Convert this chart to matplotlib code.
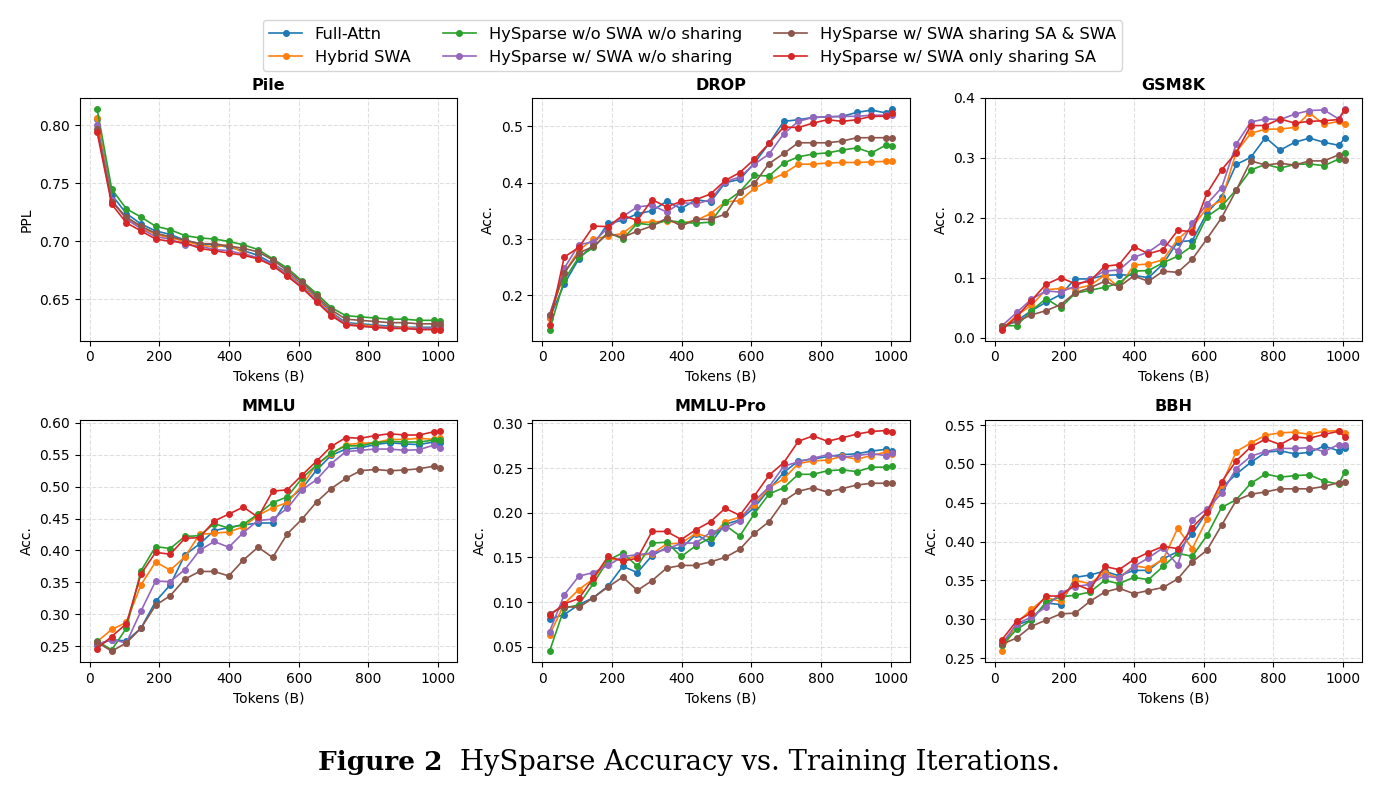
"""
HySparse accuracy vs. training tokens
"""

import numpy as np
import matplotlib.pyplot as plt

tokens = np.array([21, 63, 105, 147, 189, 231, 273, 315, 357, 399, 441, 483, 525,
                   567, 609, 651, 693, 735, 777, 819, 861, 903, 945, 987, 1005])

labels = ["Full-Attn", "Hybrid SWA", "HySparse w/o SWA w/o sharing",
          "HySparse w/ SWA w/o sharing", "HySparse w/ SWA sharing SA & SWA",
          "HySparse w/ SWA only sharing SA"]
colors = ["tab:blue", "tab:orange", "tab:green", "tab:purple", "tab:brown", "tab:red"]

# Pile (PPL)
pile_full = [0.805, 0.740, 0.724, 0.715, 0.709, 0.706, 0.701, 0.698, 0.697, 0.695, 0.692, 0.688, 0.681,
             0.673, 0.663, 0.651, 0.639, 0.630, 0.629, 0.628, 0.627, 0.626, 0.626, 0.626, 0.626]
pile_hybrid = [0.806, 0.735, 0.720, 0.712, 0.706, 0.703, 0.700, 0.697, 0.695, 0.697, 0.690, 0.685, 0.680,
               0.672, 0.662, 0.650, 0.638, 0.629, 0.628, 0.627, 0.626, 0.626, 0.625, 0.625, 0.625]
pile_noswa = [0.814, 0.745, 0.728, 0.721, 0.713, 0.710, 0.705, 0.703, 0.702, 0.700, 0.697, 0.693, 0.685,
              0.677, 0.666, 0.655, 0.643, 0.636, 0.635, 0.634, 0.633, 0.633, 0.632, 0.632, 0.631]
pile_swa = [0.800, 0.736, 0.719, 0.711, 0.704, 0.702, 0.697, 0.696, 0.693, 0.692, 0.689, 0.686, 0.680,
            0.671, 0.661, 0.649, 0.637, 0.629, 0.627, 0.626, 0.626, 0.625, 0.625, 0.625, 0.625]
pile_share_both = [0.797, 0.734, 0.721, 0.713, 0.707, 0.704, 0.701, 0.698, 0.698, 0.696, 0.694, 0.691, 0.684,
                   0.675, 0.665, 0.653, 0.641, 0.633, 0.632, 0.631, 0.630, 0.630, 0.629, 0.629, 0.629]
pile_share_sa = [0.794, 0.732, 0.716, 0.709, 0.702, 0.700, 0.699, 0.694, 0.692, 0.690, 0.688, 0.685, 0.679,
                 0.670, 0.660, 0.648, 0.636, 0.628, 0.627, 0.626, 0.625, 0.625, 0.624, 0.624, 0.624]

# DROP
drop_full = [0.160, 0.220, 0.265, 0.290, 0.328, 0.333, 0.345, 0.350, 0.367, 0.354, 0.370, 0.366, 0.400,
             0.406, 0.435, 0.470, 0.509, 0.512, 0.516, 0.517, 0.518, 0.525, 0.529, 0.524, 0.531]
drop_hybrid = [0.160, 0.240, 0.280, 0.300, 0.305, 0.310, 0.330, 0.330, 0.332, 0.328, 0.333, 0.345, 0.366,
               0.368, 0.390, 0.404, 0.416, 0.433, 0.433, 0.435, 0.436, 0.436, 0.437, 0.438, 0.438]
drop_noswa = [0.139, 0.227, 0.268, 0.285, 0.312, 0.300, 0.328, 0.325, 0.333, 0.330, 0.328, 0.330, 0.365,
              0.384, 0.413, 0.412, 0.435, 0.446, 0.451, 0.453, 0.458, 0.462, 0.453, 0.467, 0.466]
drop_swa = [0.165, 0.248, 0.290, 0.295, 0.320, 0.340, 0.357, 0.360, 0.348, 0.365, 0.362, 0.370, 0.402,
            0.410, 0.433, 0.451, 0.487, 0.509, 0.516, 0.517, 0.518, 0.518, 0.520, 0.520, 0.520]
drop_share_both = [0.165, 0.240, 0.275, 0.287, 0.310, 0.303, 0.314, 0.323, 0.337, 0.323, 0.335, 0.335, 0.344,
                   0.384, 0.399, 0.434, 0.452, 0.471, 0.471, 0.471, 0.474, 0.480, 0.480, 0.480, 0.480]
drop_share_sa = [0.148, 0.268, 0.285, 0.323, 0.322, 0.342, 0.333, 0.370, 0.357, 0.367, 0.370, 0.380, 0.404,
                 0.418, 0.442, 0.470, 0.499, 0.498, 0.506, 0.512, 0.509, 0.512, 0.518, 0.518, 0.524]

# GSM8K
gsm_full = [0.018, 0.028, 0.045, 0.059, 0.072, 0.098, 0.098, 0.104, 0.105, 0.104, 0.100, 0.123, 0.160,
            0.162, 0.208, 0.235, 0.289, 0.301, 0.334, 0.313, 0.326, 0.333, 0.326, 0.321, 0.333]
gsm_hybrid = [0.015, 0.037, 0.054, 0.080, 0.082, 0.082, 0.087, 0.104, 0.084, 0.121, 0.123, 0.130, 0.164,
              0.185, 0.216, 0.229, 0.310, 0.341, 0.348, 0.348, 0.351, 0.375, 0.356, 0.361, 0.356]
gsm_noswa = [0.020, 0.020, 0.045, 0.065, 0.050, 0.074, 0.079, 0.084, 0.091, 0.111, 0.112, 0.125, 0.136,
             0.153, 0.202, 0.219, 0.247, 0.280, 0.289, 0.283, 0.289, 0.290, 0.287, 0.298, 0.309]
gsm_swa = [0.020, 0.042, 0.064, 0.078, 0.076, 0.086, 0.098, 0.111, 0.113, 0.134, 0.143, 0.160, 0.145,
           0.191, 0.223, 0.250, 0.323, 0.360, 0.365, 0.364, 0.373, 0.379, 0.380, 0.365, 0.382]
gsm_share_both = [0.019, 0.027, 0.038, 0.045, 0.055, 0.075, 0.083, 0.094, 0.085, 0.103, 0.094, 0.111, 0.109,
                  0.131, 0.165, 0.200, 0.246, 0.295, 0.288, 0.291, 0.288, 0.295, 0.295, 0.305, 0.297]
gsm_share_sa = [0.013, 0.035, 0.062, 0.089, 0.100, 0.090, 0.094, 0.119, 0.122, 0.152, 0.140, 0.147, 0.179,
                0.177, 0.241, 0.280, 0.309, 0.354, 0.354, 0.365, 0.358, 0.361, 0.362, 0.364, 0.380]

# MMLU
mmlu_full = [0.252, 0.260, 0.258, 0.278, 0.320, 0.346, 0.393, 0.410, 0.431, 0.436, 0.440, 0.443, 0.443,
             0.479, 0.497, 0.526, 0.549, 0.559, 0.561, 0.566, 0.569, 0.567, 0.566, 0.570, 0.569]
mmlu_hybrid = [0.257, 0.276, 0.287, 0.346, 0.382, 0.369, 0.390, 0.425, 0.427, 0.429, 0.437, 0.455, 0.467,
               0.475, 0.502, 0.535, 0.551, 0.566, 0.568, 0.569, 0.574, 0.574, 0.576, 0.574, 0.577]
mmlu_noswa = [0.258, 0.244, 0.278, 0.368, 0.406, 0.403, 0.422, 0.423, 0.442, 0.435, 0.441, 0.457, 0.475,
              0.484, 0.513, 0.534, 0.553, 0.564, 0.564, 0.569, 0.571, 0.570, 0.570, 0.573, 0.573]
mmlu_swa = [0.253, 0.260, 0.255, 0.305, 0.352, 0.351, 0.370, 0.400, 0.414, 0.405, 0.428, 0.447, 0.449,
            0.466, 0.495, 0.511, 0.536, 0.555, 0.557, 0.559, 0.559, 0.557, 0.558, 0.565, 0.560]
mmlu_share_both = [0.256, 0.242, 0.255, 0.278, 0.314, 0.329, 0.355, 0.367, 0.367, 0.360, 0.385, 0.405, 0.389,
                   0.426, 0.449, 0.476, 0.497, 0.513, 0.525, 0.527, 0.525, 0.526, 0.528, 0.532, 0.529]
mmlu_share_sa = [0.246, 0.265, 0.285, 0.363, 0.397, 0.394, 0.419, 0.420, 0.446, 0.457, 0.468, 0.452, 0.493,
                 0.495, 0.518, 0.540, 0.563, 0.577, 0.576, 0.580, 0.583, 0.581, 0.581, 0.586, 0.588]

# MMLU-Pro
pro_full = [0.081, 0.086, 0.097, 0.105, 0.118, 0.140, 0.133, 0.152, 0.161, 0.160, 0.176, 0.166, 0.187,
            0.192, 0.206, 0.226, 0.245, 0.258, 0.260, 0.263, 0.265, 0.266, 0.269, 0.271, 0.269]
pro_hybrid = [0.063, 0.098, 0.114, 0.126, 0.148, 0.147, 0.152, 0.154, 0.165, 0.166, 0.177, 0.172, 0.190,
              0.195, 0.209, 0.228, 0.238, 0.255, 0.258, 0.259, 0.263, 0.260, 0.264, 0.268, 0.266]
pro_noswa = [0.045, 0.093, 0.097, 0.121, 0.147, 0.155, 0.140, 0.166, 0.167, 0.151, 0.163, 0.172, 0.186,
             0.174, 0.199, 0.221, 0.228, 0.243, 0.243, 0.247, 0.248, 0.246, 0.251, 0.251, 0.252]
pro_swa = [0.067, 0.108, 0.129, 0.133, 0.141, 0.151, 0.153, 0.155, 0.159, 0.166, 0.166, 0.178, 0.183,
           0.191, 0.213, 0.229, 0.252, 0.257, 0.261, 0.265, 0.262, 0.264, 0.266, 0.264, 0.267]
pro_share_both = [0.087, 0.095, 0.094, 0.105, 0.117, 0.128, 0.113, 0.124, 0.138, 0.141, 0.141, 0.145, 0.150,
                  0.159, 0.177, 0.190, 0.213, 0.224, 0.228, 0.223, 0.227, 0.231, 0.233, 0.233, 0.233]
pro_share_sa = [0.085, 0.098, 0.104, 0.127, 0.151, 0.146, 0.149, 0.179, 0.179, 0.170, 0.181, 0.190, 0.205,
                0.197, 0.219, 0.242, 0.256, 0.280, 0.286, 0.280, 0.284, 0.288, 0.291, 0.292, 0.290]

# BBH
bbh_full = [0.267, 0.293, 0.299, 0.321, 0.319, 0.354, 0.357, 0.362, 0.356, 0.363, 0.363, 0.378, 0.387,
            0.410, 0.438, 0.469, 0.487, 0.502, 0.515, 0.517, 0.513, 0.515, 0.523, 0.517, 0.521]
bbh_hybrid = [0.259, 0.295, 0.313, 0.328, 0.323, 0.350, 0.346, 0.360, 0.353, 0.369, 0.366, 0.377, 0.417,
              0.391, 0.429, 0.473, 0.516, 0.527, 0.537, 0.540, 0.541, 0.538, 0.542, 0.543, 0.540]
bbh_noswa = [0.267, 0.287, 0.299, 0.322, 0.329, 0.331, 0.335, 0.350, 0.346, 0.354, 0.351, 0.368, 0.385,
             0.381, 0.408, 0.444, 0.454, 0.475, 0.487, 0.483, 0.485, 0.486, 0.478, 0.474, 0.490]
bbh_swa = [0.269, 0.294, 0.303, 0.316, 0.334, 0.342, 0.345, 0.356, 0.353, 0.368, 0.379, 0.392, 0.370,
           0.428, 0.442, 0.462, 0.494, 0.510, 0.516, 0.520, 0.520, 0.521, 0.516, 0.525, 0.525]
bbh_share_both = [0.268, 0.276, 0.291, 0.299, 0.307, 0.308, 0.323, 0.335, 0.340, 0.333, 0.337, 0.341, 0.352,
                  0.374, 0.389, 0.421, 0.453, 0.461, 0.464, 0.468, 0.468, 0.468, 0.471, 0.476, 0.477]
bbh_share_sa = [0.274, 0.298, 0.308, 0.330, 0.330, 0.345, 0.338, 0.368, 0.364, 0.377, 0.386, 0.394, 0.391,
                0.418, 0.438, 0.477, 0.504, 0.522, 0.532, 0.525, 0.535, 0.533, 0.538, 0.542, 0.535]

panels = [
    ("Pile", "PPL", [pile_full, pile_hybrid, pile_noswa, pile_swa, pile_share_both, pile_share_sa]),
    ("DROP", "Acc.", [drop_full, drop_hybrid, drop_noswa, drop_swa, drop_share_both, drop_share_sa]),
    ("GSM8K", "Acc.", [gsm_full, gsm_hybrid, gsm_noswa, gsm_swa, gsm_share_both, gsm_share_sa]),
    ("MMLU", "Acc.", [mmlu_full, mmlu_hybrid, mmlu_noswa, mmlu_swa, mmlu_share_both, mmlu_share_sa]),
    ("MMLU-Pro", "Acc.", [pro_full, pro_hybrid, pro_noswa, pro_swa, pro_share_both, pro_share_sa]),
    ("BBH", "Acc.", [bbh_full, bbh_hybrid, bbh_noswa, bbh_swa, bbh_share_both, bbh_share_sa]),
]

fig, axes = plt.subplots(2, 3, figsize=(13.88, 7.94), dpi=100)
fig.subplots_adjust(left=0.0576, right=0.9813, bottom=0.166, top=0.8766,
                    wspace=0.2, hspace=0.325)

for ax, (title, ylab, series) in zip(axes.flat, panels):
    for vals, lab, col in zip(series, labels, colors):
        ax.plot(tokens, vals, marker='o', markersize=4, linewidth=1.2,
                color=col, label=lab)
    ax.set_title(title, fontsize=11.5, fontweight='bold')
    ax.set_xlabel("Tokens (B)", fontsize=10)
    ax.set_ylabel(ylab, fontsize=10)
    ax.set_xticks([0, 200, 400, 600, 800, 1000])
    ax.tick_params(labelsize=10)
    ax.grid(True, linestyle='--', alpha=0.4)

axes[0, 2].set_ylim(-0.005, 0.4)

handles, labs = axes[0, 0].get_legend_handles_labels()
fig.legend(handles, labs, loc='upper center', bbox_to_anchor=(0.499, 0.985),
           ncol=3, fontsize=11.7, handlelength=2, columnspacing=2.0,
           labelspacing=0.5)

# caption
fig.canvas.draw()
t1 = fig.text(0.229, 0.04, "Figure 2", fontsize=19, fontweight='bold',
              family='DejaVu Serif', va='center', ha='left')
bb = t1.get_window_extent(fig.canvas.get_renderer())
fig.text(bb.x1 / fig.bbox.width + 0.013, 0.04,
         "HySparse Accuracy vs. Training Iterations.",
         fontsize=19.8, family='DejaVu Serif', va='center', ha='left')

plt.savefig("out.png")
